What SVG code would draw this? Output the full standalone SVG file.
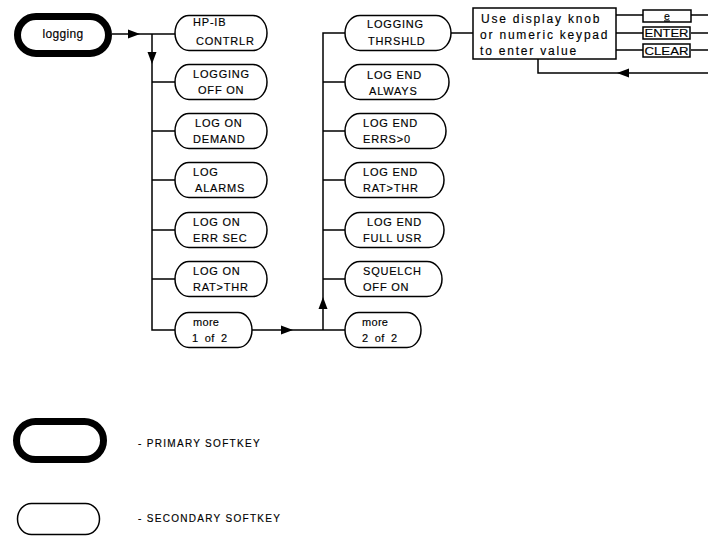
<svg xmlns="http://www.w3.org/2000/svg" width="708" height="536" viewBox="0 0 708 536">
<defs>
<style>
.bg{fill:#fff}
.pk{fill:none;stroke:#000;stroke-width:7}
.sk{fill:none;stroke:#000;stroke-width:1.5}
.ln{fill:none;stroke:#000;stroke-width:1.5}
.ah{fill:#000;stroke:none}
text{font-family:"Liberation Sans",Arial,sans-serif;fill:#000;stroke:#000;stroke-width:0.15}
.t{font-size:11px;letter-spacing:0.8px}
.lc{font-size:11px;letter-spacing:0.3px;word-spacing:3px}
.bx{font-size:12px;letter-spacing:1.8px}
.sm{font-size:10.5px}
.lg{font-size:10px;letter-spacing:1.3px}
</style>
</defs>
<rect class="bg" x="0" y="0" width="708" height="536"/>

<g id="connectors">
<path class="ln" d="M112,34 H175"/>
<polygon class="ah" points="140,34 128,29.5 128,38.5"/>
<path class="ln" d="M152,34 V330 H175"/>
<polygon class="ah" points="152,64 147.5,52 156.5,52"/>
<path class="ln" d="M152,82 H175 M152,131 H175 M152,180 H175 M152,230 H175 M152,279 H175"/>
<path class="ln" d="M252,330 H345"/>
<polygon class="ah" points="293,330 281,325.5 281,334.5"/>
<path class="ln" d="M323,330 V33 H345"/>
<polygon class="ah" points="323,297 318.5,309 327.5,309"/>
<path class="ln" d="M323,82 H345 M323,131 H345 M323,180 H345 M323,230 H345 M323,279 H345"/>
<path class="ln" d="M451,33 H473"/>
<path class="ln" d="M616,15 H643 M616,33 H643 M616,50 H643"/>
<path class="ln" d="M691,15 H708 M691,33 H708 M691,50 H708"/>
<path class="ln" d="M708,73 H538 V59"/>
<polygon class="ah" points="617,73 629,68.5 629,77.5"/>
</g>

<g id="logging">
<rect class="pk" x="17.5" y="16.5" width="91" height="37" rx="18.5"/>
<text class="lc" x="63" y="38" text-anchor="middle" style="font-size:12px">logging</text>
</g>

<g id="hpib">
<rect class="sk" x="175" y="15.5" width="92" height="35" rx="14" ry="17.5"/>
<text class="t" x="193" y="26">HP-IB</text>
<text class="t" x="196" y="45">CONTRLR</text>
</g>
<g id="logging-off-on">
<rect class="sk" x="175" y="64.5" width="92" height="35" rx="14" ry="17.5"/>
<text class="t" x="193" y="78">LOGGING</text>
<text class="t" x="198" y="94">OFF ON</text>
</g>
<g id="log-on-demand">
<rect class="sk" x="175" y="113.5" width="92" height="35" rx="14" ry="17.5"/>
<text class="t" x="195" y="127">LOG ON</text>
<text class="t" x="193" y="143">DEMAND</text>
</g>
<g id="log-alarms">
<rect class="sk" x="175" y="162.5" width="92" height="35" rx="14" ry="17.5"/>
<text class="t" x="193" y="176">LOG</text>
<text class="t" x="195" y="192">ALARMS</text>
</g>
<g id="log-on-err-sec">
<rect class="sk" x="175" y="212.5" width="92" height="35" rx="14" ry="17.5"/>
<text class="t" x="193" y="226">LOG ON</text>
<text class="t" x="193" y="242">ERR SEC</text>
</g>
<g id="log-on-rat-thr">
<rect class="sk" x="175" y="261.5" width="92" height="35" rx="14" ry="17.5"/>
<text class="t" x="193" y="275">LOG ON</text>
<text class="t" x="193" y="291">RAT&gt;THR</text>
</g>
<g id="more-1">
<rect class="sk" x="175" y="312.5" width="77" height="35" rx="14" ry="17.5"/>
<text class="lc" x="193" y="326">more</text>
<text class="lc" x="192" y="342">1 of 2</text>
</g>

<g id="logging-thrshld">
<rect class="sk" x="345" y="15.5" width="106" height="35" rx="15" ry="17.5"/>
<text class="t" x="367" y="28">LOGGING</text>
<text class="t" x="368" y="45">THRSHLD</text>
</g>
<g id="log-end-always">
<rect class="sk" x="345" y="64.5" width="104" height="35" rx="15" ry="17.5"/>
<text class="t" x="367" y="79">LOG END</text>
<text class="t" x="369" y="95">ALWAYS</text>
</g>
<g id="log-end-errs">
<rect class="sk" x="345" y="113.5" width="101" height="35" rx="15" ry="17.5"/>
<text class="t" x="363" y="127">LOG END</text>
<text class="t" x="363" y="143">ERRS&gt;0</text>
</g>
<g id="log-end-rat-thr">
<rect class="sk" x="345" y="162.5" width="99" height="35" rx="15" ry="17.5"/>
<text class="t" x="363" y="176">LOG END</text>
<text class="t" x="363" y="192">RAT&gt;THR</text>
</g>
<g id="log-end-full-usr">
<rect class="sk" x="345" y="212.5" width="99" height="35" rx="15" ry="17.5"/>
<text class="t" x="367" y="226">LOG END</text>
<text class="t" x="363" y="242">FULL USR</text>
</g>
<g id="squelch">
<rect class="sk" x="345" y="261.5" width="97" height="35" rx="15" ry="17.5"/>
<text class="t" x="363" y="275">SQUELCH</text>
<text class="t" x="363" y="291">OFF ON</text>
</g>
<g id="more-2">
<rect class="sk" x="345" y="312.5" width="76" height="35" rx="14" ry="17.5"/>
<text class="lc" x="362" y="326">more</text>
<text class="lc" x="362" y="342">2 of 2</text>
</g>

<g id="entry-box">
<rect class="sk" x="473" y="8" width="143" height="51"/>
<text class="bx" x="481" y="23">Use display knob</text>
<text class="bx" x="480" y="39">or numeric keypad</text>
<text class="bx" x="480" y="55">to enter value</text>
</g>
<g id="key-e">
<rect class="sk" x="643" y="10" width="48" height="12"/>
<text class="sm" x="667" y="19.5" text-anchor="middle" text-decoration="underline">e</text>
</g>
<g id="key-enter">
<rect class="sk" x="643" y="27" width="47" height="12"/>
<text class="sm" x="644.5" y="37" textLength="44" lengthAdjust="spacingAndGlyphs">ENTER</text>
</g>
<g id="key-clear">
<rect class="sk" x="643" y="44" width="47" height="13"/>
<text class="sm" x="644.5" y="54.5" textLength="44" lengthAdjust="spacingAndGlyphs">CLEAR</text>
</g>

<g id="legend-primary">
<rect class="pk" x="16.5" y="421.5" width="87" height="38" rx="19"/>
<text class="lg" x="138" y="447">- PRIMARY SOFTKEY</text>
</g>
<g id="legend-secondary">
<rect class="sk" x="17.5" y="503.5" width="82" height="31" rx="14" ry="15.5"/>
<text class="lg" x="138" y="522">- SECONDARY SOFTKEY</text>
</g>
</svg>
